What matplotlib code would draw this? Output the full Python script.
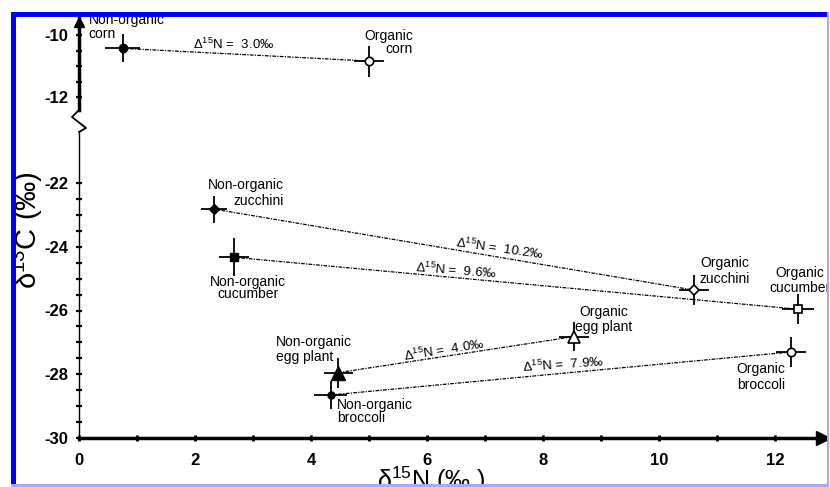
import matplotlib
matplotlib.use("Agg")
import matplotlib.pyplot as plt
from matplotlib.lines import Line2D
from matplotlib.patches import Rectangle
from matplotlib.ticker import FixedLocator
import numpy as np

plt.rcParams["font.family"] = ["Liberation Sans", "DejaVu Sans"]
plt.rcParams["mathtext.fontset"] = "custom"
plt.rcParams["mathtext.rm"] = "Liberation Sans"
plt.rcParams["mathtext.it"] = "Liberation Sans:italic"
plt.rcParams["mathtext.bf"] = "Liberation Sans:bold"
plt.rcParams["axes.unicode_minus"] = False

# values
crops = ["corn", "zucchini", "cucumber", "egg plant", "broccoli"]
conv_n = [0.75, 2.33, 2.67, 4.47, 4.34]
conv_c = [-10.43, -22.82, -24.33, -27.95, -28.65]
conv_n_err = [0.30, 0.22, 0.26, 0.25, 0.28]
conv_c_err = [0.45, 0.42, 0.60, 0.47, 0.44]
org_n = [5.00, 10.60, 12.40, 8.53, 12.28]
org_c = [-10.84, -25.36, -25.96, -26.82, -27.30]
org_n_err = [0.26, 0.26, 0.28, 0.26, 0.26]
org_c_err = [0.50, 0.47, 0.47, 0.45, 0.47]
delta_n = [3.0, 10.2, 9.6, 4.0, 7.9]

x_ticks = [0, 2, 4, 6, 8, 10, 12]
y_ticks_top = [-10, -12]
y_ticks_low = [-22, -24, -26, -28, -30]

W, H = 830, 487


def fx(px):
    return px / W


def fy(py):
    return 1 - py / H


fig = plt.figure(figsize=(W / 100, H / 100), dpi=100)
ax_low = fig.add_axes([fx(79), fy(438), fx(829) - fx(79), fy(132) - fy(438)])
ax_top = fig.add_axes([fx(79), fy(110), fx(829) - fx(79), fy(18) - fy(110)])

xmax = 12.93
for ax in (ax_low, ax_top):
    ax.set_xlim(0, xmax)
    ax.set_facecolor("none")
    for s in ("top", "right"):
        ax.spines[s].set_visible(False)
    ax.tick_params(axis="y", which="both", direction="inout", length=5, width=1.6,
                   labelsize=12, pad=5)

ax_low.set_ylim(-30, -20.4)
ax_top.set_ylim(-12.42, -9.45)

ax_low.spines["left"].set_linewidth(1.0)
ax_low.spines["bottom"].set_linewidth(2.5)
ax_top.spines["left"].set_linewidth(2.5)
ax_top.spines["bottom"].set_visible(False)
ax_top.xaxis.set_visible(False)

ax_low.set_xticks(x_ticks)
ax_low.xaxis.set_minor_locator(FixedLocator(np.arange(1, 13, 2)))
ax_low.tick_params(axis="x", which="both", direction="inout", length=5, width=2,
                   labelsize=12, pad=8)
ax_low.set_yticks(y_ticks_low)
ax_low.yaxis.set_minor_locator(FixedLocator(np.arange(-29.5, -22, 0.5)))
ax_top.set_yticks(y_ticks_top)
ax_top.yaxis.set_minor_locator(FixedLocator([-10.5, -11, -11.5]))
for ax in (ax_low, ax_top):
    for lab in ax.get_xticklabels() + ax.get_yticklabels():
        lab.set_fontweight("bold")

# axis arrows
ax_low.plot([12.83], [0], marker=">", ms=10, color="black",
            transform=ax_low.get_xaxis_transform(), clip_on=False, zorder=5)
ax_top.plot([0], [-9.58], marker="^", ms=7, color="black",
            transform=ax_top.get_yaxis_transform(), clip_on=False, zorder=5)

# axis break zigzag
zz_x = [79, 72, 86, 79]
zz_y = [110, 117, 128, 132]
fig.add_artist(Line2D([fx(v) for v in zz_x], [fy(v) for v in zz_y],
                      color="black", lw=1.3, transform=fig.transFigure))

conv_marker = ["o", "D", "s", "^", "o"]
conv_ms = [6, 5.5, 6, 10, 5]
org_marker = ["o", "D", "s", "^", "o"]
org_ms = [6, 5.5, 6, 9, 6]

conv_lab = [("left", -34, 21.5, 0.95), ("right", 70, 16, 1.15), ("center", 14, -30.5, 0.85),
            ("left", -62, 23, 1.1), ("left", 6, -16.5, 0.95)]
org_lab = [("right", 44, 18.5, 0.85), ("center", 31, 19, 1.15), ("center", 2, 28.5, 1.1),
           ("center", 30, 17, 1.15), ("center", -30, -25, 1.15)]
delta_pos = [(0.45, 10, 0), (0.596, 9, -8), (0.394, 7.5, -4.5), (0.449, 6, 9), (0.504, 9, 4)]

for i, crop in enumerate(crops):
    ax = ax_top if conv_c[i] > -15 else ax_low
    ax.plot([conv_n[i], org_n[i]], [conv_c[i], org_c[i]], color="black", lw=0.9,
            linestyle=(0, (3, 1, 1, 1)), zorder=1)
    ax.errorbar([conv_n[i]], [conv_c[i]], xerr=[conv_n_err[i]], yerr=[conv_c_err[i]],
                fmt="none", ecolor="black", elinewidth=1.3, capsize=0, zorder=2)
    ax.errorbar([org_n[i]], [org_c[i]], xerr=[org_n_err[i]], yerr=[org_c_err[i]],
                fmt="none", ecolor="black", elinewidth=1.3, capsize=0, zorder=2)
    ax.plot([conv_n[i]], [conv_c[i]], marker=conv_marker[i], ms=conv_ms[i],
            color="black", zorder=3)
    ax.plot([org_n[i]], [org_c[i]], marker=org_marker[i], ms=org_ms[i],
            mfc="white", mec="black", mew=1.2, zorder=3)

    ha, dx, dy, ls = conv_lab[i]
    ax.annotate("Non-organic\n" + crop, (conv_n[i], conv_c[i]), xytext=(dx, dy),
                textcoords="offset pixels", ha=ha, va="center", multialignment=ha,
                fontsize=10, linespacing=ls, annotation_clip=False)
    ha, dx, dy, ls = org_lab[i]
    ax.annotate("Organic\n" + crop, (org_n[i], org_c[i]), xytext=(dx, dy),
                textcoords="offset pixels", ha=ha, va="center", multialignment=ha,
                fontsize=10, linespacing=ls, annotation_clip=False)

    frac, up, rot = delta_pos[i]
    mx = conv_n[i] + frac * (org_n[i] - conv_n[i])
    my = conv_c[i] + frac * (org_c[i] - conv_c[i])
    ax.annotate("Δ$^{15}$N =  %.1f‰" % delta_n[i], (mx, my), xytext=(0, up),
                textcoords="offset pixels", ha="center", va="center", fontsize=9.5,
                rotation=rot, rotation_mode="anchor", annotation_clip=False)

# axis titles
fig.text(fx(27), fy(230), "δ$^{13}$C (‰)", rotation=90, ha="center", va="center",
         fontsize=21)
fig.text(fx(431), fy(489), "δ$^{15}$N (‰ )", ha="center", va="baseline", fontsize=18)

# frame around the picture
for x0, y0, x1, y1, col in [(0, 0, 11, H, "white"), (0, 0, W, 12, "white"),
                            (829, 0, W, H, "white"), (0, 486, W, H, "white"),
                            (11, 12, 16, 486, "#0000ff"), (11, 12, 829, 17, "#0000ff"),
                            (11, 484.5, 829, 486.5, "#a8a8ff"),
                            (827, 12, 829, 486.5, "#a8a8ff")]:
    fig.add_artist(Rectangle((fx(x0), fy(y1)), fx(x1) - fx(x0), fy(y0) - fy(y1),
                             facecolor=col, edgecolor="none", transform=fig.transFigure,
                             zorder=10))

fig.savefig("out.png", dpi=100)
